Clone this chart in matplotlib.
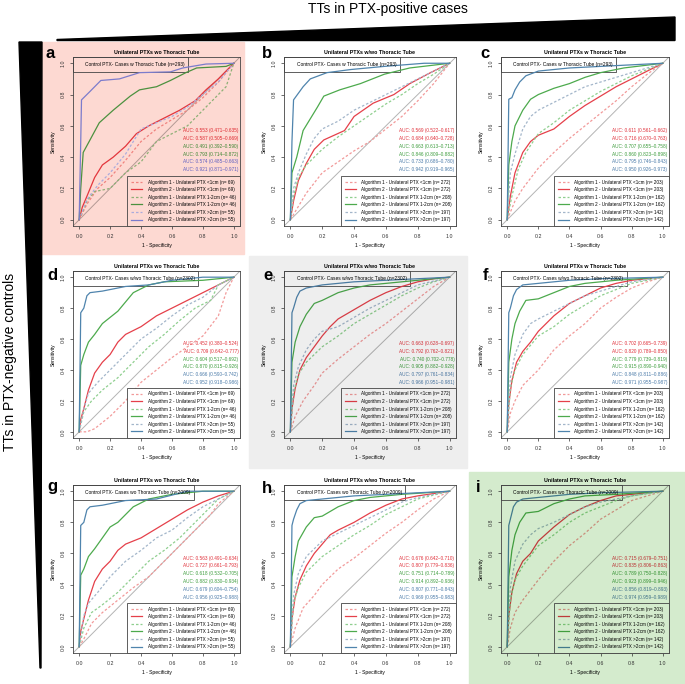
import numpy as np
import matplotlib.pyplot as plt
from matplotlib.patches import Rectangle, Polygon
from matplotlib.colors import to_rgb

plt.rcParams['font.family'] = ['Liberation Sans', 'DejaVu Sans']

W, H = 685, 684  # tamaño en px

# curvas ROC: (1 - especificidad, sensibilidad)
# orden: Alg1 <1cm, Alg2 <1cm, Alg1 1-2cm, Alg2 1-2cm, Alg1 >2cm, Alg2 >2cm
roc_a = [
    [(0,0),(0.05,0.1),(0.12,0.2),(0.2,0.27),(0.3,0.38),(0.4,0.5),(0.5,0.58),(0.6,0.64),(0.7,0.7),(0.8,0.78),(0.9,0.88),(1,1)],
    [(0,0),(0.02,0.08),(0.05,0.15),(0.1,0.27),(0.15,0.35),(0.22,0.4),(0.3,0.47),(0.37,0.55),(0.45,0.6),(0.55,0.65),(0.65,0.7),(0.75,0.76),(0.82,0.83),(0.9,0.9),(0.97,0.97),(1,1)],
    [(0,0),(0.05,0.12),(0.1,0.18),(0.2,0.2),(0.3,0.3),(0.4,0.37),(0.5,0.5),(0.6,0.55),(0.7,0.6),(0.8,0.7),(0.9,0.8),(0.95,0.85),(1,1)],
    [(0,0),(0.01,0.2),(0.026,0.43),(0.07,0.51),(0.13,0.62),(0.22,0.7),(0.33,0.79),(0.39,0.83),(0.5,0.85),(0.59,0.89),(0.69,0.94),(0.76,0.97),(0.95,0.98),(1,1)],
    [(0,0),(0.05,0.13),(0.12,0.22),(0.2,0.3),(0.3,0.42),(0.4,0.58),(0.5,0.62),(0.6,0.66),(0.7,0.72),(0.8,0.8),(0.9,0.88),(1,1)],
    [(0,0),(0.01,0.5),(0.015,0.766),(0.07,0.82),(0.13,0.88),(0.14,0.89),(0.26,0.9),(0.39,0.94),(0.59,0.945),(0.67,0.97),(0.82,0.995),(1,1)],
]
roc_b = [
    [(0,0),(0.1,0.17),(0.2,0.3),(0.3,0.37),(0.4,0.44),(0.5,0.5),(0.6,0.58),(0.7,0.66),(0.8,0.76),(0.9,0.87),(1,1)],
    [(0,0),(0.02,0.12),(0.05,0.25),(0.1,0.36),(0.15,0.45),(0.21,0.51),(0.34,0.57),(0.4,0.66),(0.52,0.745),(0.65,0.8),(0.75,0.87),(0.88,0.94),(1,1)],
    [(0,0),(0.02,0.15),(0.05,0.27),(0.1,0.35),(0.2,0.45),(0.3,0.53),(0.4,0.6),(0.5,0.67),(0.6,0.74),(0.7,0.8),(0.8,0.87),(0.9,0.93),(1,1)],
    [(0,0),(0.01,0.3),(0.04,0.4),(0.08,0.57),(0.17,0.72),(0.21,0.79),(0.31,0.83),(0.44,0.87),(0.59,0.93),(0.75,0.97),(1,1)],
    [(0,0),(0.02,0.2),(0.05,0.3),(0.1,0.42),(0.15,0.52),(0.2,0.58),(0.3,0.63),(0.4,0.7),(0.5,0.75),(0.6,0.8),(0.7,0.85),(0.8,0.9),(0.9,0.95),(1,1)],
    [(0,0),(0.01,0.5),(0.02,0.766),(0.08,0.85),(0.125,0.9),(0.23,0.94),(0.38,0.96),(0.59,0.98),(0.84,1.0),(1,1)],
]
roc_c = [
    [(0,0),(0.05,0.12),(0.1,0.2),(0.2,0.33),(0.3,0.43),(0.4,0.52),(0.5,0.6),(0.6,0.68),(0.7,0.76),(0.8,0.85),(0.9,0.93),(1,1)],
    [(0,0),(0.02,0.15),(0.05,0.3),(0.1,0.43),(0.15,0.5),(0.2,0.54),(0.3,0.58),(0.4,0.66),(0.5,0.73),(0.6,0.79),(0.7,0.85),(0.8,0.9),(0.9,0.95),(1,1)],
    [(0,0),(0.03,0.15),(0.07,0.32),(0.12,0.43),(0.2,0.55),(0.3,0.62),(0.4,0.7),(0.5,0.76),(0.6,0.82),(0.7,0.87),(0.8,0.92),(1,1)],
    [(0,0),(0.01,0.35),(0.03,0.5),(0.05,0.6),(0.1,0.7),(0.15,0.77),(0.2,0.8),(0.3,0.84),(0.4,0.87),(0.5,0.91),(0.6,0.94),(0.75,0.97),(1,1)],
    [(0,0),(0.02,0.3),(0.05,0.42),(0.1,0.58),(0.15,0.66),(0.2,0.7),(0.3,0.75),(0.4,0.8),(0.5,0.85),(0.6,0.88),(0.7,0.91),(0.8,0.94),(1,1)],
    [(0,0),(0.01,0.77),(0.03,0.78),(0.05,0.83),(0.08,0.88),(0.12,0.92),(0.2,0.95),(0.4,0.97),(0.6,0.98),(0.8,0.99),(1,1)],
]
roc_d = [
    [(0,0),(0.05,0.0),(0.1,0.02),(0.2,0.1),(0.3,0.2),(0.4,0.32),(0.5,0.4),(0.6,0.48),(0.7,0.55),(0.8,0.62),(0.9,0.75),(0.95,0.9),(1,1)],
    [(0,0),(0.01,0.08),(0.03,0.15),(0.06,0.27),(0.1,0.38),(0.15,0.45),(0.2,0.5),(0.25,0.58),(0.3,0.63),(0.4,0.68),(0.5,0.75),(0.6,0.8),(0.7,0.85),(0.8,0.9),(0.9,0.95),(1,1)],
    [(0,0),(0.03,0.13),(0.08,0.2),(0.15,0.27),(0.25,0.35),(0.35,0.45),(0.45,0.55),(0.55,0.63),(0.65,0.72),(0.75,0.8),(0.85,0.85),(0.9,0.95),(1,1)],
    [(0,0),(0.01,0.43),(0.03,0.5),(0.06,0.58),(0.1,0.63),(0.15,0.7),(0.2,0.74),(0.25,0.78),(0.3,0.84),(0.35,0.9),(0.45,0.95),(0.55,0.97),(0.8,0.98),(1,1)],
    [(0,0),(0.03,0.15),(0.06,0.25),(0.12,0.32),(0.2,0.4),(0.3,0.5),(0.4,0.6),(0.5,0.67),(0.6,0.75),(0.7,0.82),(0.8,0.87),(0.9,0.95),(1,1)],
    [(0,0),(0.01,0.77),(0.03,0.8),(0.05,0.88),(0.07,0.9),(0.15,0.91),(0.3,0.94),(0.45,0.95),(0.6,0.98),(0.8,1.0),(1,1)],
]
roc_e = [
    [(0,0),(0.03,0.1),(0.08,0.2),(0.15,0.3),(0.2,0.38),(0.3,0.47),(0.4,0.55),(0.5,0.63),(0.6,0.7),(0.7,0.78),(0.8,0.86),(0.9,0.94),(1,1)],
    [(0,0),(0.01,0.15),(0.03,0.28),(0.06,0.4),(0.1,0.48),(0.15,0.55),(0.2,0.62),(0.25,0.68),(0.3,0.73),(0.4,0.79),(0.5,0.85),(0.6,0.9),(0.7,0.94),(0.8,0.97),(0.9,0.99),(1,1)],
    [(0,0),(0.02,0.25),(0.05,0.37),(0.1,0.45),(0.2,0.55),(0.3,0.62),(0.4,0.7),(0.5,0.76),(0.6,0.82),(0.7,0.88),(0.8,0.93),(0.9,0.97),(1,1)],
    [(0,0),(0.01,0.45),(0.03,0.58),(0.06,0.68),(0.1,0.76),(0.15,0.83),(0.2,0.85),(0.3,0.9),(0.4,0.93),(0.5,0.95),(0.6,0.96),(0.8,0.98),(1,1)],
    [(0,0),(0.02,0.3),(0.05,0.42),(0.1,0.53),(0.15,0.6),(0.2,0.65),(0.3,0.68),(0.4,0.74),(0.5,0.8),(0.6,0.85),(0.7,0.9),(0.8,0.95),(1,1)],
    [(0,0),(0.01,0.77),(0.02,0.8),(0.04,0.87),(0.06,0.91),(0.1,0.93),(0.2,0.95),(0.4,0.97),(0.6,0.98),(0.8,0.99),(1,1)],
]
roc_f = [
    [(0,0),(0.02,0.12),(0.05,0.2),(0.1,0.3),(0.2,0.4),(0.3,0.53),(0.4,0.62),(0.5,0.7),(0.6,0.8),(0.7,0.87),(0.8,0.93),(0.9,0.97),(1,1)],
    [(0,0),(0.01,0.18),(0.03,0.33),(0.06,0.45),(0.1,0.52),(0.15,0.58),(0.2,0.65),(0.3,0.75),(0.4,0.83),(0.5,0.88),(0.6,0.93),(0.7,0.96),(0.8,0.98),(1,1)],
    [(0,0),(0.02,0.28),(0.05,0.4),(0.1,0.5),(0.2,0.62),(0.3,0.68),(0.4,0.76),(0.5,0.82),(0.6,0.88),(0.7,0.92),(0.8,0.96),(1,1)],
    [(0,0),(0.01,0.45),(0.03,0.6),(0.05,0.7),(0.08,0.78),(0.12,0.85),(0.2,0.86),(0.3,0.9),(0.4,0.94),(0.5,0.96),(0.7,0.98),(1,1)],
    [(0,0),(0.02,0.35),(0.05,0.5),(0.1,0.63),(0.15,0.7),(0.2,0.73),(0.3,0.78),(0.4,0.83),(0.5,0.88),(0.6,0.91),(0.7,0.94),(0.8,0.97),(1,1)],
    [(0,0),(0.01,0.77),(0.02,0.8),(0.04,0.88),(0.06,0.92),(0.1,0.95),(0.2,0.96),(0.4,0.98),(0.6,0.99),(1,1)],
]
roc_g = [
    [(0,0),(0.03,0.05),(0.08,0.15),(0.15,0.22),(0.25,0.3),(0.35,0.38),(0.45,0.45),(0.55,0.55),(0.65,0.65),(0.75,0.75),(0.85,0.85),(0.9,0.92),(1,1)],
    [(0,0),(0.01,0.1),(0.03,0.18),(0.06,0.3),(0.1,0.42),(0.15,0.5),(0.2,0.55),(0.25,0.62),(0.3,0.66),(0.4,0.7),(0.5,0.76),(0.6,0.82),(0.7,0.88),(0.8,0.93),(0.9,0.97),(1,1)],
    [(0,0),(0.03,0.12),(0.08,0.22),(0.15,0.27),(0.25,0.35),(0.35,0.45),(0.45,0.55),(0.55,0.62),(0.65,0.7),(0.75,0.8),(0.85,0.9),(0.9,0.95),(1,1)],
    [(0,0),(0.01,0.46),(0.03,0.5),(0.06,0.58),(0.1,0.63),(0.15,0.7),(0.2,0.77),(0.25,0.8),(0.3,0.85),(0.35,0.9),(0.45,0.95),(0.6,0.98),(0.8,1.0),(1,1)],
    [(0,0),(0.03,0.2),(0.06,0.28),(0.12,0.35),(0.2,0.45),(0.3,0.55),(0.4,0.62),(0.5,0.7),(0.6,0.75),(0.7,0.83),(0.8,0.9),(0.9,0.95),(1,1)],
    [(0,0),(0.01,0.78),(0.03,0.8),(0.05,0.88),(0.07,0.9),(0.15,0.91),(0.3,0.94),(0.5,0.95),(0.7,1.0),(1,1)],
]
roc_h = [
    [(0,0),(0.03,0.12),(0.08,0.25),(0.15,0.33),(0.2,0.4),(0.3,0.5),(0.4,0.57),(0.5,0.65),(0.6,0.73),(0.7,0.8),(0.8,0.88),(0.9,0.95),(1,1)],
    [(0,0),(0.01,0.18),(0.03,0.32),(0.06,0.43),(0.1,0.52),(0.15,0.6),(0.2,0.66),(0.25,0.72),(0.3,0.75),(0.4,0.8),(0.5,0.86),(0.6,0.91),(0.7,0.95),(0.8,0.97),(1,1)],
    [(0,0),(0.02,0.28),(0.05,0.38),(0.1,0.48),(0.2,0.58),(0.3,0.65),(0.4,0.72),(0.5,0.78),(0.6,0.85),(0.7,0.9),(0.8,0.95),(1,1)],
    [(0,0),(0.01,0.45),(0.03,0.58),(0.05,0.68),(0.1,0.77),(0.15,0.83),(0.2,0.84),(0.3,0.9),(0.4,0.94),(0.5,0.96),(0.7,0.98),(1,1)],
    [(0,0),(0.02,0.33),(0.05,0.47),(0.1,0.58),(0.15,0.63),(0.2,0.68),(0.3,0.73),(0.4,0.78),(0.5,0.83),(0.6,0.88),(0.7,0.93),(0.8,0.96),(1,1)],
    [(0,0),(0.01,0.78),(0.02,0.82),(0.04,0.88),(0.06,0.92),(0.1,0.94),(0.2,0.95),(0.4,0.97),(0.6,0.98),(1,1)],
]
roc_i = [
    [(0,0),(0.02,0.12),(0.05,0.22),(0.1,0.3),(0.2,0.43),(0.3,0.55),(0.4,0.65),(0.5,0.73),(0.6,0.82),(0.7,0.88),(0.8,0.94),(0.9,0.97),(1,1)],
    [(0,0),(0.01,0.2),(0.03,0.35),(0.06,0.47),(0.1,0.55),(0.15,0.6),(0.2,0.68),(0.3,0.77),(0.4,0.85),(0.5,0.9),(0.6,0.94),(0.7,0.97),(0.8,0.98),(1,1)],
    [(0,0),(0.02,0.3),(0.05,0.43),(0.1,0.52),(0.2,0.65),(0.3,0.72),(0.4,0.8),(0.5,0.86),(0.6,0.9),(0.7,0.94),(0.8,0.97),(1,1)],
    [(0,0),(0.01,0.45),(0.03,0.62),(0.05,0.72),(0.08,0.8),(0.12,0.86),(0.2,0.87),(0.3,0.92),(0.4,0.95),(0.5,0.97),(0.7,0.98),(1,1)],
    [(0,0),(0.02,0.38),(0.05,0.55),(0.1,0.66),(0.15,0.72),(0.2,0.76),(0.3,0.8),(0.4,0.85),(0.5,0.9),(0.6,0.93),(0.7,0.95),(0.8,0.97),(1,1)],
    [(0,0),(0.01,0.78),(0.02,0.82),(0.04,0.9),(0.06,0.93),(0.1,0.95),(0.2,0.96),(0.4,0.98),(0.6,0.99),(1,1)],
]

auc_a = ["0.553 (0.471–0.635)", "0.587 (0.505–0.669)", "0.491 (0.392–0.590)", "0.793 (0.714–0.872)", "0.574 (0.485–0.663)", "0.921 (0.871–0.971)"]
auc_b = ["0.569 (0.522–0.617)", "0.684 (0.640–0.728)", "0.663 (0.613–0.713)", "0.846 (0.809–0.882)", "0.733 (0.686–0.780)", "0.942 (0.919–0.965)"]
auc_c = ["0.611 (0.561–0.662)", "0.716 (0.670–0.763)", "0.707 (0.655–0.758)", "0.860 (0.823–0.898)", "0.795 (0.746–0.843)", "0.950 (0.926–0.973)"]
auc_d = ["0.452 (0.380–0.524)", "0.709 (0.642–0.777)", "0.604 (0.517–0.692)", "0.870 (0.815–0.926)", "0.666 (0.590–0.742)", "0.952 (0.918–0.986)"]
auc_e = ["0.663 (0.628–0.697)", "0.792 (0.762–0.821)", "0.740 (0.702–0.778)", "0.905 (0.882–0.928)", "0.797 (0.761–0.834)", "0.966 (0.951–0.981)"]
auc_f = ["0.702 (0.665–0.739)", "0.820 (0.789–0.850)", "0.779 (0.739–0.819)", "0.915 (0.890–0.940)", "0.848 (0.811–0.886)", "0.971 (0.955–0.987)"]
auc_g = ["0.563 (0.491–0.634)", "0.727 (0.661–0.793)", "0.618 (0.532–0.705)", "0.882 (0.830–0.934)", "0.679 (0.604–0.754)", "0.956 (0.925–0.988)"]
auc_h = ["0.676 (0.642–0.710)", "0.807 (0.779–0.836)", "0.751 (0.714–0.789)", "0.914 (0.892–0.936)", "0.807 (0.771–0.843)", "0.969 (0.955–0.983)"]
auc_i = ["0.715 (0.679–0.751)", "0.835 (0.806–0.863)", "0.789 (0.750–0.828)", "0.923 (0.899–0.946)", "0.856 (0.819–0.893)", "0.974 (0.959–0.989)"]

titulos = ["Unilateral PTXs wo Thoracic Tube", "Unilateral PTXs w/wo Thoracic Tube", "Unilateral PTXs w Thoracic Tube"]
controles = ["Control PTX- Cases w Thoracic Tube (n=293)",
             "Control PTX- Cases w/wo Thoracic Tube (n=2302)",
             "Control PTX- Cases wo Thoracic Tube (n=2009)"]
tamanos = ["<1cm", "1-2cm", ">2cm"]
n_casos = [[69, 46, 55], [272, 208, 197], [203, 162, 142]]

rocs = [roc_a, roc_b, roc_c, roc_d, roc_e, roc_f, roc_g, roc_h, roc_i]
aucs = [auc_a, auc_b, auc_c, auc_d, auc_e, auc_f, auc_g, auc_h, auc_i]
letras = 'abcdefghi'

# colores: (linea punteada, linea solida, texto)
col_linea = [('#f29a9a', '#e5404a', '#e0303a'),
             ('#8fcf8f', '#4daa4d', '#3c9c3c'),
             ('#a3b6ca', '#4f84ad', '#4a7aa8')]
# en el panel a los azules se ven violeta
azul_a = ('#ababdc', '#7c7ccc', '#5f5fc0')
fondos = {0: '#fdd9d2', 4: '#eeeeee', 8: '#d4ebcd'}

def tinte(c, bg):
    return tuple(np.array(to_rgb(c)) * np.array(to_rgb(bg)))

def fx(x):
    return x / W

def fy(y):
    return 1 - y / H

fig = plt.figure(figsize=(W / 100, H / 100), dpi=100)

# fondos de color de los paneles a, e, i
for x0, y0, x1, y1, c in [(42, 42, 244, 254, '#fdd9d2'), (249, 256, 467, 468, '#eeeeee'), (469, 472, 685, 684, '#d4ebcd')]:
    fig.patches.append(Rectangle((fx(x0), fy(y1)), fx(x1 - x0), (y1 - y0) / H,
                                 transform=fig.transFigure, color=c, zorder=-1))

# cuñas negras
fig.patches.append(Polygon([(fx(57), fy(39.5)), (fx(675), fy(17)), (fx(675), fy(40.5)), (fx(57), fy(40.5))],
                           closed=True, transform=fig.transFigure, color='black', zorder=-1))
fig.patches.append(Polygon([(fx(19), fy(42)), (fx(42), fy(42)), (fx(41), fy(668)), (fx(40), fy(668))],
                           closed=True, transform=fig.transFigure, color='black', zorder=-1))
fig.text(fx(388), fy(9), 'TTs in PTX-positive cases', ha='center', va='center', fontsize=10)
fig.text(fx(10), fy(362), 'TTs in PTX-negative controls', ha='center', va='center', fontsize=10, rotation=90)

lefts = [73, 284, 501]
widths = [167, 172, 168]
tops = [57, 271, 485]
heights = [169, 167, 168]
pos_letras = [(45, 58), (262, 58), (480, 58), (47, 280), (263, 280), (483, 280), (47, 491), (262, 493), (476, 492)]

ejes = []
textos_ctrl = []
for k in range(9):
    r, c = divmod(k, 3)
    bg = fondos.get(k, 'white')
    ax = fig.add_axes([fx(lefts[c]), fy(tops[r] + heights[r]), widths[c] / W, heights[r] / H])
    ax.set_zorder(2)
    ax.set_facecolor('none')
    ax.set_xlim(-0.04, 1.04)
    ax.set_ylim(-0.04, 1.04)
    ax.plot([-0.04, 1.04], [-0.04, 1.04], color=tinte('#b4b4b4', bg), lw=0.7)

    for j in range(6):
        g = j // 2
        alg = j % 2
        pts = np.array(rocs[k][j])
        if k == 0 and g == 2:
            color = azul_a[alg]
            ctxt = azul_a[2]
        else:
            color = tinte(col_linea[g][alg], bg)
            ctxt = tinte(col_linea[g][2], bg)
        ls = '-' if alg == 1 else (0, (2, 1.6))
        lab = f"Algorithm {alg + 1} - Unilateral PTX {tamanos[g]} (n= {n_casos[c][g]})"
        ax.plot(pts[:, 0], pts[:, 1], color=color, lw=0.9, ls=ls, label=lab)
        ax.text(1.03, 0.57 - 0.05 * j, 'AUC: ' + aucs[k][j], ha='right', va='center',
                fontsize=3.4, color=ctxt)

    leg = ax.legend(loc='lower right', bbox_to_anchor=(1, 0), borderaxespad=0, fontsize=3.3,
                    fancybox=False, edgecolor='#444444', facecolor=bg, framealpha=1,
                    handlelength=2.4, handletextpad=1.2, labelspacing=0.55, borderpad=0.85)
    leg.get_frame().set_linewidth(0.6)

    t = ax.text(0.04, 0.99, controles[r], fontsize=3.5, va='center', ha='left')
    ejes.append(ax)
    textos_ctrl.append(t)

    ax.set_title(titulos[c], fontsize=3.8, fontweight='bold', pad=2.5)
    ax.set_xticks(np.arange(0, 1.01, 0.2))
    ax.set_yticks(np.arange(0, 1.01, 0.2))
    ax.set_xticklabels([f'{v:.1f}' for v in np.arange(0, 1.01, 0.2)])
    ax.set_yticklabels([f'{v:.1f}' for v in np.arange(0, 1.01, 0.2)], rotation=90, va='center')
    ax.tick_params(direction='out', length=2.5, width=0.5, labelsize=3.8, pad=3, colors='#333333')
    ax.set_xlabel('1 - Specificity', fontsize=3.6, labelpad=3)
    ax.set_ylabel('Sensitivity', fontsize=3.6, labelpad=3)
    for s in ax.spines.values():
        s.set_linewidth(0.6)
        s.set_color('#444444')

    lx, ly = pos_letras[k]
    fig.text(fx(lx), fy(ly), letras[k], fontsize=12, fontweight='bold', va='baseline', ha='left')

# caja del texto de controles, medida despues de dibujar
fig.canvas.draw()
rend = fig.canvas.get_renderer()
for ax, t in zip(ejes, textos_ctrl):
    bb = t.get_window_extent(renderer=rend).transformed(ax.transData.inverted())
    ax.add_patch(Rectangle((-0.04, 0.943), bb.x1 + 0.02 + 0.04, 0.1, fill=False, ec='#444444', lw=0.6))

plt.savefig('out.png', dpi=100)
